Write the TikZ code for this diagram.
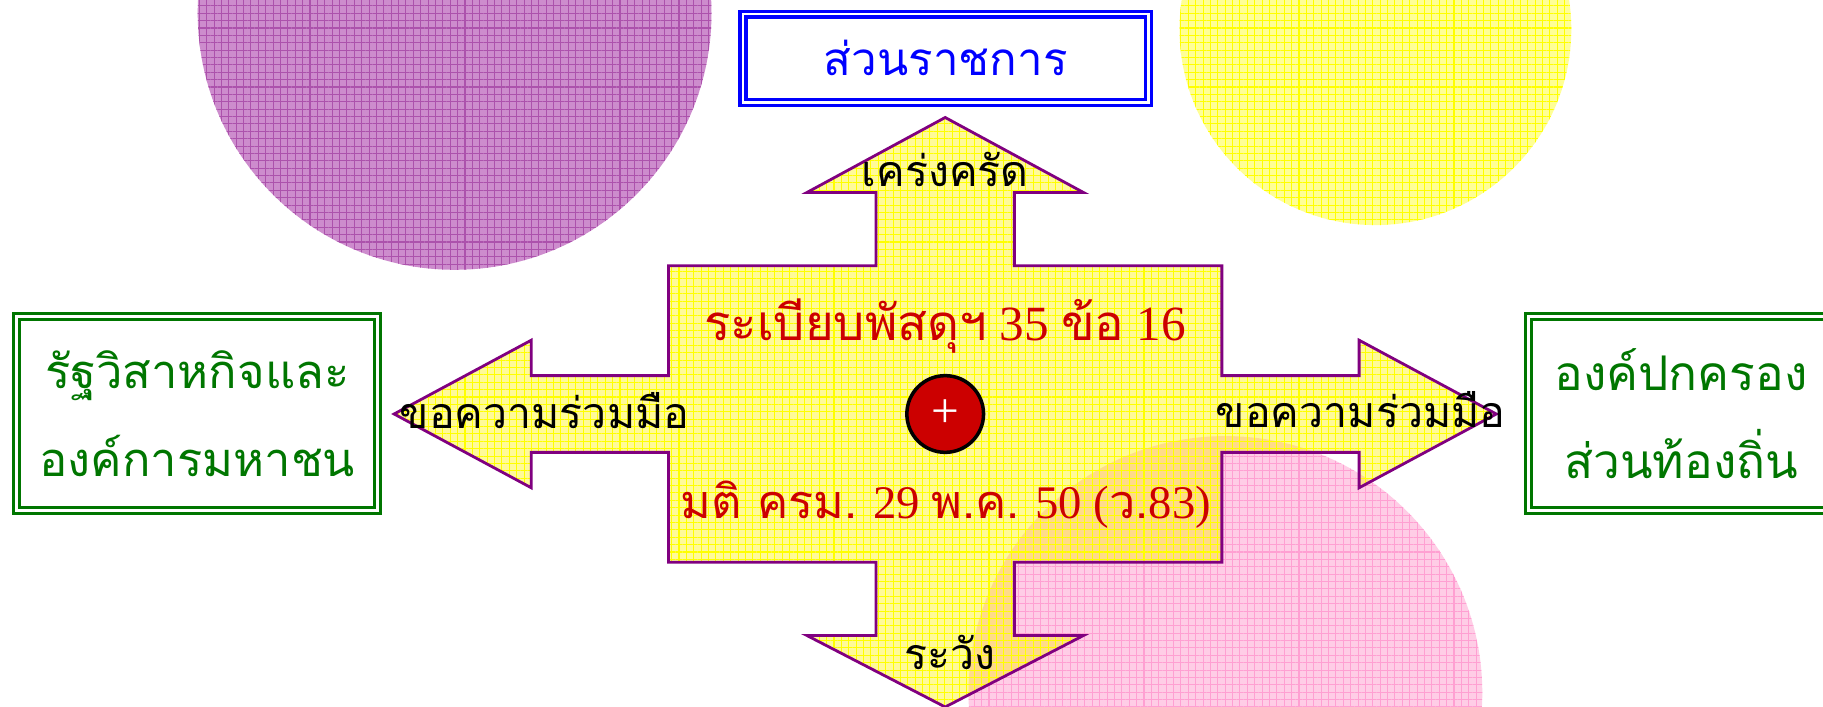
\documentclass[tikz,border=0pt]{standalone}
\usepackage{fontspec}
\setmainfont{Liberation Serif}
\newfontfamily\thfont[Script=Thai]{Loma}
\usetikzlibrary{patterns.meta}
\definecolor{govblue}{RGB}{0,0,255}
\definecolor{orggreen}{RGB}{0,118,0}
\definecolor{lawred}{RGB}{204,0,0}
\definecolor{arrowline}{RGB}{128,0,128}
\definecolor{discpurple}{RGB}{205,140,205}
\definecolor{gridpurple}{RGB}{172,82,172}
\definecolor{discyellow}{RGB}{255,255,150}
\definecolor{discpink}{RGB}{255,205,230}
\definecolor{gridpink}{RGB}{255,160,210}
\newcommand{\tx}[1]{{\thfont #1}}

\begin{document}
\begin{tikzpicture}[
	frame/.style={draw, double, line width=0.9pt, double distance=0.8pt},
	tag/.style={anchor=base, font=\thfont\fontsize{12.2}{14}\selectfont},
	rule/.style={anchor=base, text=lawred, font=\fontsize{14}{16}\selectfont},
	texture/.style={pattern={Hatch[distance=2.1pt, line width=0.3pt]}, pattern color=#1}]
	\useasboundingbox (0,0) rectangle (18.23,7.07);
	% background discs
	\fill[discpurple] (4.546,6.941) circle (2.569);
	\fill[texture=gridpurple] (4.546,6.941) circle (2.569);
	\fill[discyellow] (13.754,6.778) circle (1.959);
	\fill[texture=yellow] (13.754,6.778) circle (1.959);
	\fill[discpink] (12.254,0.140) circle (2.569);
	\fill[texture=gridpink] (12.254,0.140) circle (2.569);
	% the cross of arrows
	\path[save path=\crossshape, shift={(9.452,2.93)}]
		(0,2.965) -- (1.383,2.215) -- (0.692,2.215) -- (0.692,1.482) -- (2.767,1.482)
		-- (2.767,0.384) -- (4.139,0.384) -- (4.139,0.738) -- (5.511,0) -- (4.139,-0.738)
		-- (4.139,-0.384) -- (2.767,-0.384) -- (2.767,-1.482) -- (0.692,-1.482)
		-- (0.692,-2.215) -- (1.383,-2.215) -- (0,-2.93) -- (-1.383,-2.215)
		-- (-0.692,-2.215) -- (-0.692,-1.482) -- (-2.767,-1.482) -- (-2.767,-0.384)
		-- (-4.139,-0.384) -- (-4.139,-0.738) -- (-5.511,0) -- (-4.139,0.738)
		-- (-4.139,0.384) -- (-2.767,0.384) -- (-2.767,1.482) -- (-0.692,1.482)
		-- (-0.692,2.215) -- (-1.383,2.215) -- cycle;
	\fill[yellow, fill opacity=0.4, use path=\crossshape];
	\fill[texture=yellow, fill opacity=0.35, use path=\crossshape];
	\draw[arrowline, line width=0.8pt, use path=\crossshape];
	% boxes
	\node[frame, govblue, minimum width=4.057cm, minimum height=0.884cm,
		text height=0.45cm, text depth=0.114cm, font=\thfont\fontsize{13}{15}\selectfont]
		(gov) at (9.458,6.487) {ส่วนราชการ};
	\node[frame, orggreen, minimum width=3.611cm, minimum height=1.942cm, align=center,
		font=\thfont\fontsize{13.4}{25}\selectfont]
		(soe) at (1.973,2.936) {รัฐวิสาหกิจและ\\องค์การมหาชน};
	\node[frame, orggreen, minimum width=3.046cm, minimum height=1.942cm, align=center,
		font=\thfont\fontsize{13.6}{25}\selectfont]
		(local) at (16.811,2.936) {องค์ปกครอง\\ส่วนท้องถิ่น};
	% centre
	\node[circle, draw=black, line width=1pt, fill=lawred, minimum size=0.767cm, inner sep=0pt,
		text=white, font=\fontsize{14}{14}\selectfont] (hub) at (9.452,2.93) {+};
	\node[rule] (regs) at (9.450,3.668) {\tx{ระเบียบพัสดุฯ} 35 \tx{ข้อ} 16};
	\node[rule, font=\fontsize{13.3}{16}\selectfont] (cabinet) at (9.458,1.887)
		{\tx{มติ ครม.} 29 \tx{พ.ค.} 50 (\tx{ว.}83)};
	% arrow words
	\node[tag] (strict) at (9.452,5.201) {เคร่งครัด};
	\node[tag] (careful) at (9.50,0.372) {ระวัง};
	\node[tag] (askleft) at (5.445,2.784) {ขอความร่วมมือ};
	\node[tag] (askright) at (13.606,2.790) {ขอความร่วมมือ};
\end{tikzpicture}
\end{document}
